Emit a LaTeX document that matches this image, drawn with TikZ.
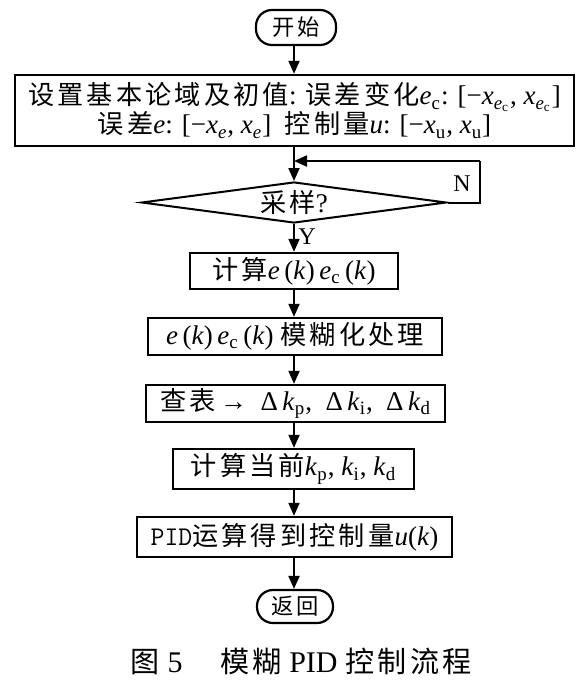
\documentclass[tikz,border=0pt]{standalone}
\usepackage{fontspec}
\setmainfont{Liberation Serif}
\newfontfamily\cjk[LetterSpace=12,Scale=0.97]{Noto Sans CJK SC}
\usetikzlibrary{shapes.geometric,arrows.meta}
\newcommand\sub[1]{\textsubscript{#1}}
\newcommand\vi[1]{\textit{#1}}
\tikzset{
  box/.style={draw, line width=1.2pt, inner sep=0pt, align=center,
    font=\fontsize{13.5}{14.5}\selectfont},
  term/.style={draw, line width=1.1pt, inner sep=0pt, rounded corners=8pt,
    font=\fontsize{11.5}{13}\selectfont},
  decision/.style={draw, diamond, line width=1pt, inner sep=0pt, shape aspect=7.4,
    font=\fontsize{13.5}{14.5}\selectfont},
  flow/.style={line width=1pt, -{Triangle[length=6.5pt,width=5.5pt]}},
  plain/.style={line width=1pt},
  lbl/.style={inner sep=0pt, font=\fontsize{12}{13}\selectfont},
}
\begin{document}
\begin{tikzpicture}[x=0.5pt,y=-0.5pt]
\useasboundingbox[fill=white] (0,0) rectangle (584,691);

\node[term, minimum width=40pt, minimum height=17.5pt] (start) at (296,27.5) {\cjk 开始};

\node[box, minimum width=279.5pt, minimum height=35.5pt] (setup) at (294.5,110.5)
  {{\cjk 设置基本论域及初值}: {\cjk 误差变化}\vi{e}\sub{c}: [−\vi{x}\sub{\vi{e}\sub{c}}, \vi{x}\sub{\vi{e}\sub{c}}]\\
   {\cjk 误差}\vi{e}: [−\vi{x}\sub{\vi{e}}, \vi{x}\sub{\vi{e}}]\ \ {\cjk 控制量}\vi{u}: [−\vi{x}\sub{u}, \vi{x}\sub{u}]};

\node[decision, minimum width=152.5pt, minimum height=20.5pt] (dec) at (294,202.5) {{\cjk 采样}?};

\node[box, minimum width=104pt, minimum height=18pt] (calc) at (294,271)
  {{\cjk 计算}\vi{e}\,(\vi{k})\,\vi{e}\sub{c}\,(\vi{k})};

\node[box, minimum width=147pt, minimum height=18.5pt] (fuzz) at (295,336.5)
  {\vi{e}\,(\vi{k})\,\vi{e}\sub{c}\,(\vi{k}) {\cjk 模糊化处理}};

\node[box, minimum width=149.5pt, minimum height=18.5pt] (look) at (295.5,403.5)
  {{\cjk 查表}\,→\enspace Δ\,\vi{k}\sub{p},\enspace Δ\,\vi{k}\sub{i},\enspace Δ\,\vi{k}\sub{d}};

\node[box, minimum width=120.5pt, minimum height=20pt] (cur) at (293.5,469)
  {{\cjk 计算当前}\vi{k}\sub{p}, \vi{k}\sub{i}, \vi{k}\sub{d}};

\node[box, minimum width=157.5pt, minimum height=20pt] (pid) at (294.5,537)
  {{\ttfamily PID}{\cjk 运算得到控制量}\vi{u}(\vi{k})};

\node[term, minimum width=38pt, minimum height=16.5pt] (ret) at (295,606.5) {\cjk 返回};

\node[inner sep=0pt, font=\fontsize{15}{17}\selectfont] (cap) at (301.5,662)
  {{\cjk 图} 5\quad\ {\cjk 模糊} PID {\cjk 控制流程}};

\node[lbl] (nlab) at (462,184) {N};
\node[lbl] (ylab) at (307,237) {Y};

\coordinate (lr) at (480,202.5);
\coordinate (lt) at (480,161);
\coordinate (lm) at (294,161);

\draw[flow] (start.south -| 294,0) -- (setup.north -| 294,0);
\draw[flow] (setup.south -| 294,0) -- (dec.north);
\draw[plain] (dec.east) -- (lr) -- (lt);
\draw[flow] (lt) -- (lm);
\draw[flow] (dec.south) -- (calc.north -| 294,0);
\draw[flow] (calc.south -| 294,0) -- (fuzz.north -| 294,0);
\draw[flow] (fuzz.south -| 294,0) -- (look.north -| 294,0);
\draw[flow] (look.south -| 294,0) -- (cur.north -| 294,0);
\draw[flow] (cur.south -| 294,0) -- (pid.north -| 294,0);
\draw[flow] (pid.south -| 294,0) -- (ret.north -| 294,0);
\end{tikzpicture}
\end{document}
